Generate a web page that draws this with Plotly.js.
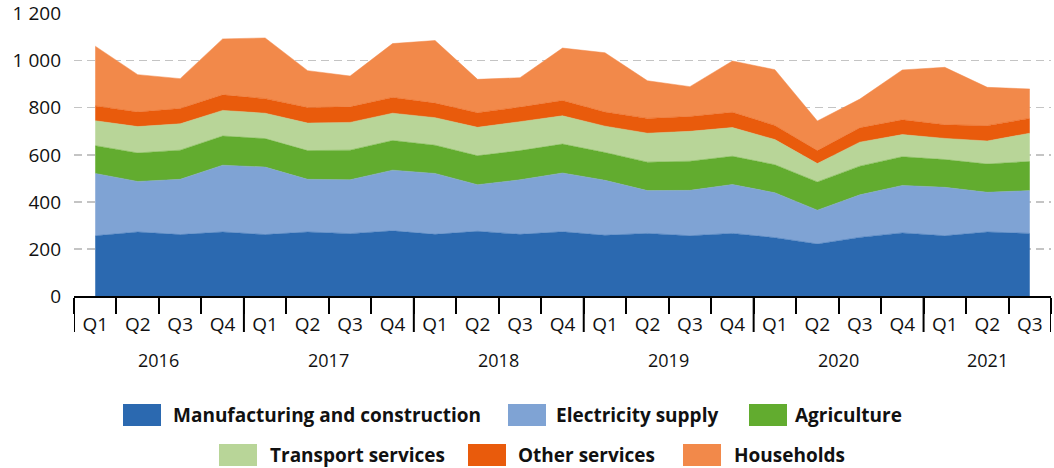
<!DOCTYPE html>
<html>
<head>
<meta charset="utf-8">
<script src="https://cdn.plot.ly/plotly-3.0.1.min.js"></script>
<style>html,body{margin:0;padding:0;background:#fff;}#chart{width:1054px;height:468px;}</style>
</head>
<body>
<div id="chart"></div>
<script>
// ---- data ----
const years = ['2016','2016','2016','2016','2017','2017','2017','2017','2018','2018','2018','2018',
               '2019','2019','2019','2019','2020','2020','2020','2020','2021','2021','2021'];
const quarters = ['Q1','Q2','Q3','Q4','Q1','Q2','Q3','Q4','Q1','Q2','Q3','Q4',
                  'Q1','Q2','Q3','Q4','Q1','Q2','Q3','Q4','Q1','Q2','Q3'];
const yearLabels = ['2016','2017','2018','2019','2020','2021'];
const seriesNames = ['Manufacturing and construction','Electricity supply','Agriculture',
                     'Transport services','Other services','Households'];
const manufacturing = [256,272,261,272,261,272,265,277,262,275,262,273,258,266,256,266,248,221,249,268,256,272,266];
const electricity   = [265,215,235,284,287,224,229,258,259,198,232,250,234,182,193,208,191,144,181,202,206,169,182];
const agriculture   = [118,121,124,124,121,122,126,126,120,123,124,123,118,121,124,120,119,120,122,122,118,120,124];
const transport     = [106,112,112,109,108,117,118,116,117,121,123,120,112,123,127,122,107,78,102,94,90,98,120];
const otherServices = [63,62,65,66,62,66,66,67,62,62,62,65,60,63,63,65,60,55,61,63,58,65,63];
const households    = [254,159,127,238,258,157,131,229,266,142,125,223,252,160,127,218,237,126,122,212,244,163,125];
const yTickVals = [0,200,400,600,800,1000,1200];

// ---- styling ----
const colors = ['#2B69B0','#7FA3D4','#62AC2F','#B8D598','#E95B0C','#F2894A'];
const seriesValues = [manufacturing, electricity, agriculture, transport, otherServices, households];
const FONT = 'Open Sans, Noto Sans, sans-serif';

// unique category keys built from the labels
const cats = years.map((y, i) => y + ' ' + quarters[i]);

const traces = seriesValues.map((vals, i) => ({
  type: 'scatter',
  mode: 'lines',
  name: seriesNames[i],
  x: cats,
  y: vals,
  stackgroup: 'one',
  line: {width: 0.5, color: colors[i]},
  fillcolor: colors[i],
  hoverinfo: 'skip',
  showlegend: false
}));

// plot area in pixels
const L = 74, R = 1051, T = 13, B = 296, H = 468, W = 1054;
const px = v => (v - L) / (R - L);
const py = v => (B - v) / (B - T);

const shapes = [], annotations = [];

// year boundaries (long ticks) and year labels
const yearStart = [];
years.forEach((y, i) => { if (i === 0 || years[i - 1] !== y) yearStart.push(i); });
const bounds = yearStart.map(i => i - 0.5).concat([years.length - 0.5]);
bounds.forEach(b => shapes.push({type:'line', xref:'x', yref:'paper',
  x0: b, x1: b, y0: py(B + 1), y1: py(332), line:{color:'#000', width:2}}));
yearLabels.forEach((yl, k) => {
  const center = (bounds[k] + bounds[k + 1]) / 2;
  annotations.push({xref:'x', yref:'paper', x: center, y: py(360), xanchor:'center', yanchor:'middle',
    showarrow:false, text: yl, font:{family: FONT, size: 18, color:'#111'}});
});

// manual legend (pixel positions)
const legendPos = [
  {sx:123, tx:171, cy:415},
  {sx:508, tx:554, cy:415},
  {sx:749, tx:793, cy:415},
  {sx:219, tx:268, cy:455},
  {sx:468, tx:516, cy:455},
  {sx:683, tx:732, cy:455}
];
legendPos.forEach((p, i) => {
  shapes.push({type:'rect', xref:'paper', yref:'paper',
    x0: px(p.sx), x1: px(p.sx + 38), y0: py(p.cy + 11), y1: py(p.cy - 11),
    fillcolor: colors[i], line: {width: 0}});
  annotations.push({xref:'paper', yref:'paper', x: px(p.tx), y: py(p.cy),
    xanchor:'left', yanchor:'middle', showarrow:false, text: seriesNames[i],
    font:{family: FONT, size: 19, weight: 700, color:'#111'}});
});

const layout = {
  width: W, height: H,
  margin: {l: L, r: W - R, t: T, b: H - B},
  paper_bgcolor: '#fff', plot_bgcolor: '#fff',
  separators: ', ',
  font: {family: FONT, size: 18, color: '#111'},
  showlegend: false,
  xaxis: {
    type: 'category',
    range: [-0.5, cats.length - 0.5],
    tickvals: cats, ticktext: quarters,
    showline: true, linecolor: '#000', linewidth: 2,
    ticks: 'outside', tickson: 'boundaries', ticklen: 16, tickwidth: 2, tickcolor: '#000',
    ticklabelstandoff: 10,
    showgrid: false, zeroline: false,
    tickfont: {family: FONT, size: 19, color: '#111'}
  },
  yaxis: {
    range: [0, 1203], tickvals: yTickVals, separatethousands: true,
    showgrid: true, gridcolor: '#c4c4c4', griddash: '8px,5px', gridwidth: 1.3,
    zeroline: false, showline: false, ticks: '',
    ticklabelstandoff: 12,
    tickfont: {family: FONT, size: 19, color: '#111'}
  },
  shapes: shapes,
  annotations: annotations
};

Plotly.newPlot('chart', traces, layout, {displayModeBar: false, staticPlot: true});
</script>
</body>
</html>
